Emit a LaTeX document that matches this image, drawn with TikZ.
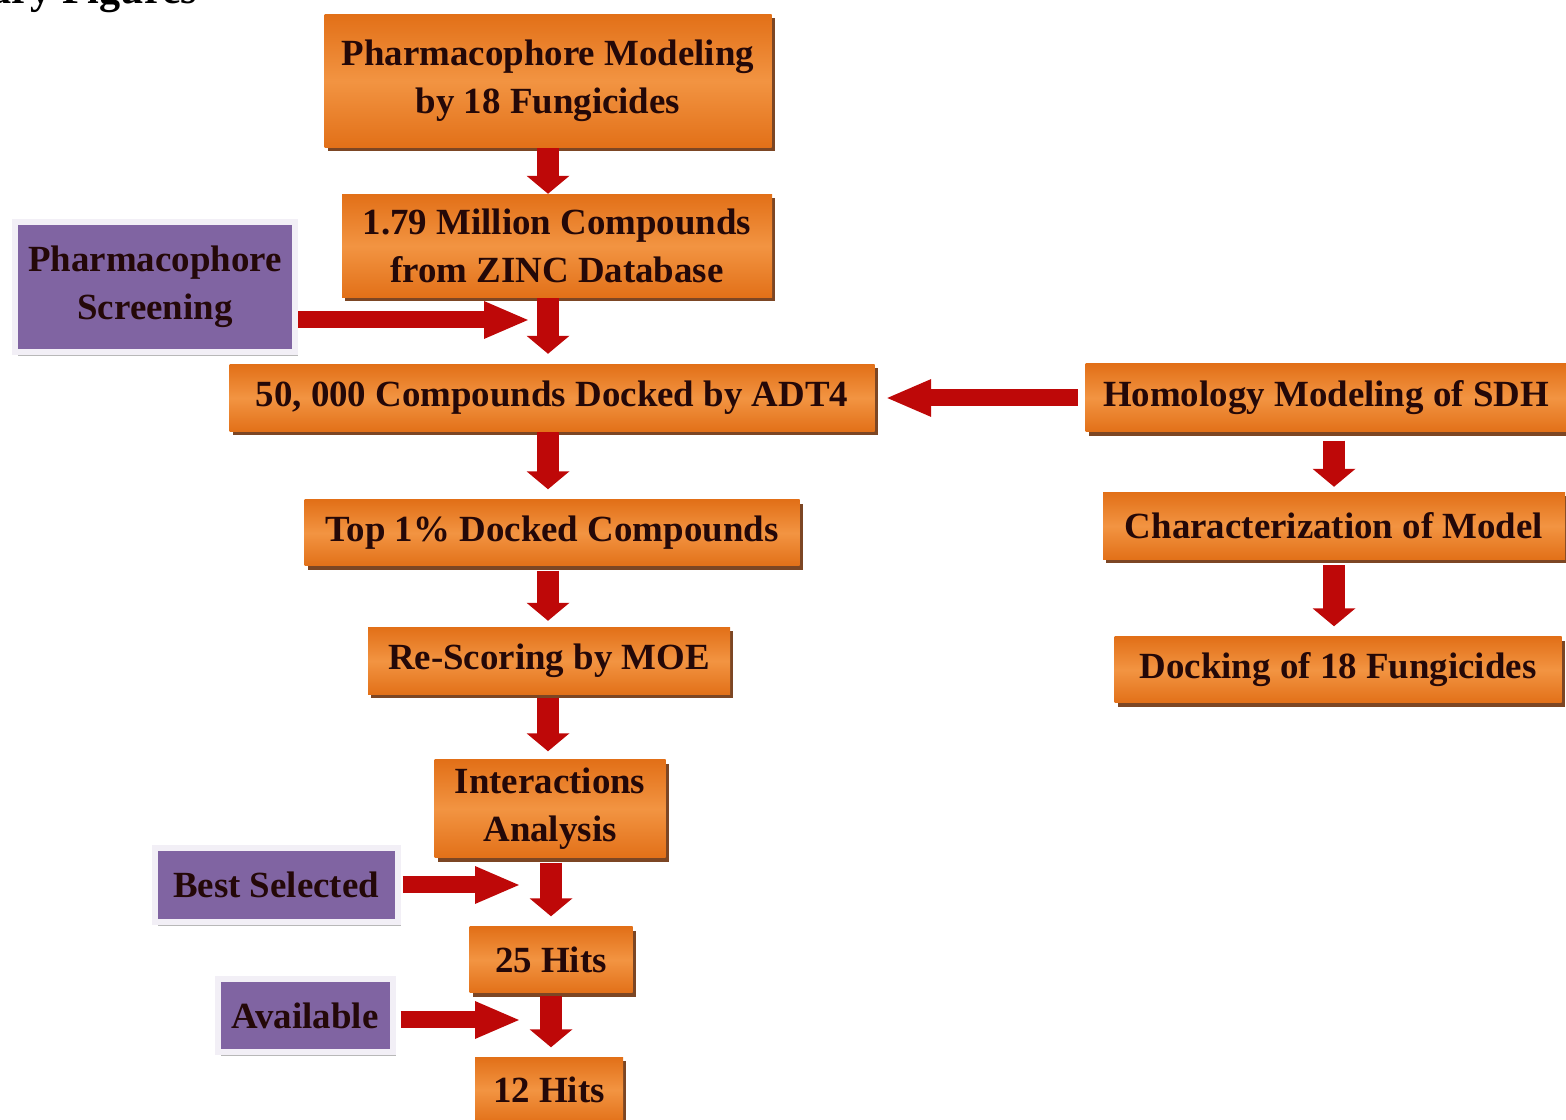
\documentclass[tikz,border=0pt]{standalone}
\usepackage{fontspec}
\setmainfont{Liberation Serif}
\usetikzlibrary{arrows.meta,shadows}

\definecolor{boxorange}{RGB}{226,112,24}
\definecolor{boxorangelight}{RGB}{242,148,66}
\definecolor{boxpurple}{RGB}{128,100,162}
\definecolor{arrowred}{RGB}{190,8,8}
\definecolor{inkdark}{RGB}{36,8,8}
\definecolor{shadowbrown}{RGB}{110,50,12}

\begin{document}
\begin{tikzpicture}[
		x=0.1mm, y=-0.1mm,
		every node/.style={font=\bfseries\fontsize{10.5}{13.7}\selectfont, text=inkdark, align=center, inner sep=0pt},
		stagebox/.style={top color=boxorange, bottom color=boxorange, middle color=boxorangelight, drop shadow={shadow xshift=0.3mm, shadow yshift=-0.4mm, fill=shadowbrown, opacity=0.9}},
		filterbox/.style={fill=boxpurple, draw=white!90!boxpurple, line width=0.6mm, drop shadow={shadow xshift=0.3mm, shadow yshift=-0.4mm, fill=black!35, opacity=0.8}},
		down arrow/.style={arrowred, line width=2.2mm, -{Triangle[width=4.2mm, length=1.8mm]}},
		side arrow/.style={arrowred, line width=1.7mm, -{Triangle[width=3.4mm, length=4.6mm]}}
		]
	
	\useasboundingbox (0, 0) rectangle (1566, 1120);
	\clip (0, 0) rectangle (1566, 1120);
	
	% Page heading, cut off at the top
	\node[anchor=base west, text=black, font=\bfseries\fontsize{12}{14}\selectfont] (heading) at (-10, 4) {ary Figures};
	
	% Screening pipeline
	\node[stagebox, minimum width=44.7mm, minimum height=13.3mm] (pharm) at (548, 81) {Pharmacophore Modeling\\by 18 Fungicides};
	\node[stagebox, minimum width=43mm, minimum height=10.3mm] (zinc) at (557, 246) {1.79 Million Compounds\\from ZINC Database};
	\node[stagebox, minimum width=64.5mm, minimum height=6.7mm] (docked) at (552, 398) {50, 000 Compounds Docked by ADT4};
	\node[stagebox, minimum width=49.5mm, minimum height=6.6mm] (top) at (552, 533) {Top 1\% Docked Compounds};
	\node[stagebox, minimum width=36.2mm, minimum height=6.7mm] (moe) at (549, 661) {Re-Scoring by MOE};
	\node[stagebox, minimum width=23.1mm, minimum height=9.8mm] (inter) at (550, 809) {Interactions\\Analysis};
	\node[stagebox, minimum width=16.3mm, minimum height=6.6mm] (hits25) at (551, 960) {25 Hits};
	\node[stagebox, minimum width=14.8mm, minimum height=6.6mm] (hits12) at (549, 1090) {12 Hits};
	
	% Filters
	\node[filterbox, minimum width=28mm, minimum height=13mm] (screen) at (155, 287) {Pharmacophore\\Screening};
	\node[filterbox, minimum width=24.3mm, minimum height=7.4mm] (best) at (276, 885) {Best Selected};
	\node[filterbox, minimum width=17.5mm, minimum height=7.3mm] (avail) at (305, 1016) {Available};
	
	% Receptor side
	\node[stagebox, minimum width=48.1mm, minimum height=6.8mm] (homol) at (1326, 398) {Homology Modeling of SDH};
	\node[stagebox, minimum width=46.2mm, minimum height=6.7mm] (charac) at (1334, 526) {Characterization of Model};
	\node[stagebox, minimum width=44.7mm, minimum height=6.6mm] (dockfung) at (1338, 670) {Docking of 18 Fungicides};
	
	% Joins of the side arrows
	\coordinate (screenjoin) at (545, 320);
	\coordinate (bestjoin) at (545, 885);
	\coordinate (availjoin) at (545, 1020);
	
	% Side arrows
	\draw[side arrow, shorten >=1.5mm] (screen.east |- screenjoin) -- (screenjoin);
	\draw[side arrow, shorten <=0.2mm, shorten >=2.4mm] (best.east |- bestjoin) -- (bestjoin);
	\draw[side arrow, shorten <=0.5mm, shorten >=2.4mm] (avail.east |- availjoin) -- (availjoin);
	\draw[side arrow, shorten <=0.7mm, shorten >=1mm] (homol.west) -- (docked.east);
	
	% Down arrows
	\draw[down arrow] (pharm.south) -- (pharm.south |- zinc.north);
	\draw[down arrow, shorten >=1mm] (zinc.south -| pharm) -- (docked.north -| pharm);
	\draw[down arrow, shorten >=1mm] (docked.south -| pharm) -- (top.north -| pharm);
	\draw[down arrow, shorten <=0.4mm, shorten >=0.6mm] (top.south -| pharm) -- (moe.north -| pharm);
	\draw[down arrow, shorten <=0.3mm, shorten >=0.8mm] (moe.south -| pharm) -- (inter.north -| pharm);
	\draw[down arrow, shorten <=0.4mm, shorten >=1mm] (inter.south -| hits25) -- (hits25.north);
	\draw[down arrow, shorten <=0.2mm, shorten >=0.9mm] (hits25.south) -- (hits25.south |- hits12.north);
	\draw[down arrow, shorten <=0.8mm, shorten >=0.5mm] (homol.south -| charac) -- (charac.north);
	\draw[down arrow, shorten <=0.5mm, shorten >=1mm] (charac.south) -- (charac.south |- dockfung.north);
	
\end{tikzpicture}
\end{document}
